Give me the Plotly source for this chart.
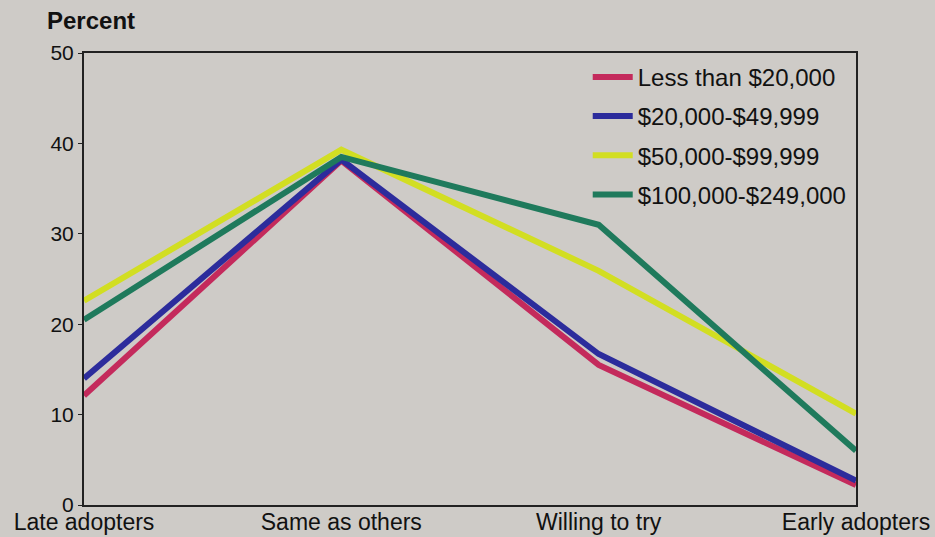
import plotly.graph_objects as go

categories = ["Late adopters", "Same as others", "Willing to try", "Early adopters"]
series_names = ["Less than $20,000", "$20,000-$49,999", "$50,000-$99,999", "$100,000-$249,000"]
less_20k = [12.1, 38.1, 15.5, 2.2]
k20_50 = [14.0, 38.2, 16.7, 2.7]
k50_100 = [22.6, 39.3, 25.9, 10.1]
k100_250 = [20.5, 38.5, 31.0, 6.0]
y_ticks = [0, 10, 20, 30, 40, 50]

series = [less_20k, k20_50, k50_100, k100_250]
colors = ["#c42a5c", "#2c2c9c", "#d2de22", "#1f7a5c"]

fig = go.Figure()
xs = list(range(len(categories)))
for name, vals, col in zip(series_names, series, colors):
    fig.add_trace(go.Scatter(x=xs, y=vals, mode="lines", name=name,
                             legendgroup=name,
                             line=dict(color=col, width=6)))

bg = "#cecbc7"
font = "Liberation Sans, Arial, sans-serif"
fig.update_layout(
    width=935, height=537,
    paper_bgcolor=bg, plot_bgcolor=bg,
    margin=dict(l=84, r=79, t=53, b=32),
    font=dict(family=font, size=22, color="#111111"),
    showlegend=True,
    legend=dict(x=0.6525, y=0.996, xanchor="left", yanchor="top",
                bgcolor="rgba(0,0,0,0)", font=dict(size=24),
                tracegroupgap=5, itemwidth=40),
)
fig.add_annotation(text="<b>Percent</b>", xref="paper", yref="paper",
                   x=-0.05, y=1.073, xanchor="left", yanchor="middle",
                   showarrow=False, font=dict(size=24, family=font, color="#111111"))
fig.update_xaxes(range=[0, 3], tickvals=xs, ticktext=categories, automargin=False,
                 showline=True, linecolor="#222222", linewidth=2, mirror=True,
                 showgrid=False, zeroline=False, ticks="", tickfont=dict(size=23),
                 ticklabelstandoff=-5)
fig.update_yaxes(range=[0, 50], tickvals=y_ticks, automargin=False,
                 showline=True, linecolor="#222222", linewidth=2, mirror=True,
                 showgrid=False, zeroline=False, ticks="outside", ticklen=4,
                 tickcolor="#222222", tickfont=dict(size=21))

fig.write_html("out.html", config={"displayModeBar": False},
               post_script="document.body.style.margin='0';")
